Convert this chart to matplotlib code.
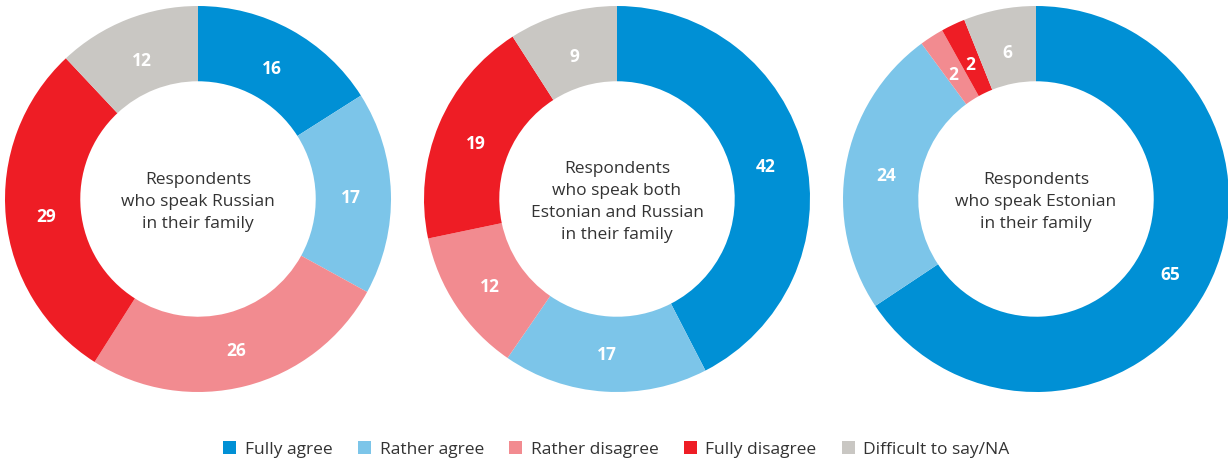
import matplotlib
matplotlib.use("Agg")
import numpy as np
import matplotlib.pyplot as plt
from matplotlib.patches import Patch

plt.rcParams['font.family'] = ['Open Sans', 'DejaVu Sans']

categories = ["Fully agree", "Rather agree", "Rather disagree", "Fully disagree", "Difficult to say/NA"]
colors = ["#0090d5", "#7cc5e9", "#f28b90", "#ee1d25", "#c9c7c3"]

groups = [
    "Respondents\nwho speak Russian\nin their family",
    "Respondents\nwho speak both\nEstonian and Russian\nin their family",
    "Respondents\nwho speak Estonian\nin their family",
]
russian = [16, 17, 26, 29, 12]
both = [42, 17, 12, 19, 9]
estonian = [65, 24, 2, 2, 6]
series = [russian, both, estonian]

W, H = 1228, 464
fig = plt.figure(figsize=(W / 100, H / 100), dpi=100)

centers_x = [198, 617, 1036]
center_y = 200
radius = 193
ring = 0.39

for cx, vals, title in zip(centers_x, series, groups):
    ax = fig.add_axes([(cx - radius) / W, (H - center_y - radius) / H,
                       2 * radius / W, 2 * radius / H])
    wedges, _ = ax.pie(vals, colors=colors, startangle=90, counterclock=False,
                       radius=1.0, wedgeprops=dict(width=ring, edgecolor="none"))
    for v, w in zip(vals, wedges):
        mid = np.deg2rad((w.theta1 + w.theta2) / 2)
        r = 0.79
        ax.text(r * np.cos(mid), r * np.sin(mid) - 0.015, f"{v}", ha="center", va="center",
                color="white", fontsize=12.5, fontweight="bold")
    ax.text(0, -0.01, title, ha="center", va="center", fontsize=12.5,
            color="#333333", linespacing=1.5)
    ax.set_xlim(-1, 1)
    ax.set_ylim(-1, 1)
    ax.set_aspect("equal")
    ax.axis("off")

handles = [Patch(facecolor=c, edgecolor="none") for c in colors]
fig.legend(handles, categories, loc="center", bbox_to_anchor=(0.502, 1 - 450 / H),
           ncol=5, frameon=False, fontsize=12.5, handlelength=0.75, handleheight=0.75,
           handletextpad=0.5, columnspacing=1.45, labelcolor="#333333")

fig.savefig("out.png", dpi=100)
